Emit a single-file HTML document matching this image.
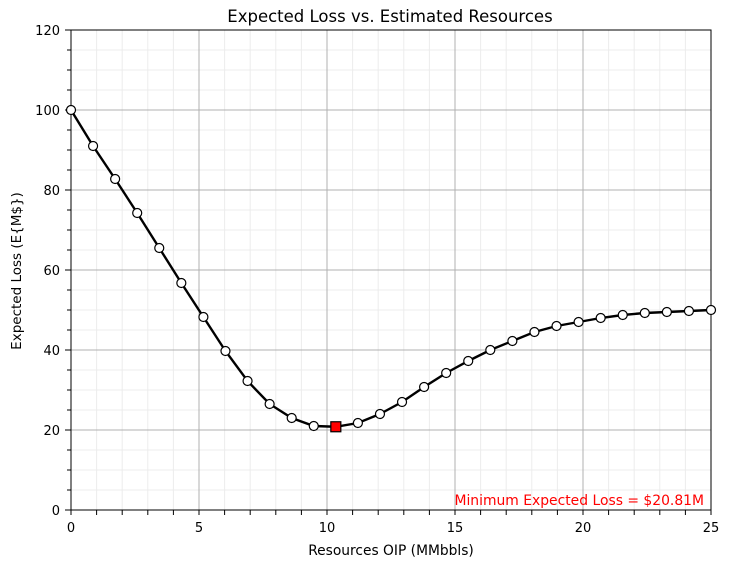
<!DOCTYPE html>
<html><head><meta charset="utf-8"><style>body{margin:0;background:#fff}svg{display:block;font-family:"DejaVu Sans","Liberation Sans",sans-serif}</style></head>
<body>
<svg id="chart" width="729" height="568"></svg>
<script>
const resources = [0,0.862,1.724,2.586,3.448,4.310,5.172,6.034,6.897,7.759,8.621,9.483,10.345,11.207,12.069,12.931,13.793,14.655,15.517,16.379,17.241,18.103,18.966,19.828,20.690,21.552,22.414,23.276,24.138,25];
const expectedLoss = [100,91,82.75,74.25,65.5,56.75,48.25,39.75,32.25,26.5,23,21,20.81,21.75,24,27,30.75,34.25,37.25,40,42.25,44.5,46,47,48,48.75,49.25,49.5,49.75,50];
const minIndex = 12;
const xTicks = [0,5,10,15,20,25];
const yTicks = [0,20,40,60,80,100,120];
const L=71,R=711,T=30,B=510;
const X=v=>L+(v/25)*(R-L), Y=v=>B-(v/120)*(B-T);
const NS='http://www.w3.org/2000/svg', svg=document.getElementById('chart');
function mk(t,a,p){const e=document.createElementNS(NS,t);for(const k in a)e.setAttribute(k,a[k]);(p||svg).appendChild(e);return e;}
for(let v=0;v<=25;v++){if(v%5){const l=mk('line',{x1:X(v),x2:X(v),y1:T,y2:B,stroke:'#ececec','stroke-width':1});}}
for(let v=0;v<=120;v+=5){if(v%20){const l=mk('line',{x1:L,x2:R,y1:Y(v),y2:Y(v),stroke:'#ececec','stroke-width':1});
const t=mk('line',{x1:L-4,x2:L,y1:Y(v),y2:Y(v),stroke:'#000'});}}
for(let v=0;v<=25;v++){if(v%5){const t=mk('line',{x1:X(v),x2:X(v),y1:B,y2:B+5,stroke:'#000'});}}
xTicks.forEach(v=>{const g=mk('line',{x1:X(v),x2:X(v),y1:T,y2:B,stroke:'#b0b0b0'});
const t=mk('line',{x1:X(v),x2:X(v),y1:B,y2:B+5,stroke:'#000'});
const s=mk('text',{x:X(v),y:B+22,'text-anchor':'middle','font-size':13});s.textContent=v;});
yTicks.forEach(v=>{const g=mk('line',{x1:L,x2:R,y1:Y(v),y2:Y(v),stroke:'#b0b0b0'});
const t=mk('line',{x1:L-6,x2:L,y1:Y(v),y2:Y(v),stroke:'#000'});
const s=mk('text',{x:L-11,y:Y(v)+5,'text-anchor':'end','font-size':13});s.textContent=v;});
const fr=mk('rect',{x:L,y:T,width:R-L,height:B-T,fill:'none',stroke:'#000','stroke-width':1});
const ln=mk('polyline',{points:resources.map((v,i)=>X(v)+','+Y(expectedLoss[i])).join(' '),fill:'none',stroke:'#000','stroke-width':2.4});
resources.forEach((v,i)=>{if(i===minIndex){const r=mk('rect',{x:X(v)-5,y:Y(expectedLoss[i])-5,width:10,height:10,fill:'#f00',stroke:'#000','stroke-width':1.2});}
else{const c=mk('circle',{cx:X(v),cy:Y(expectedLoss[i]),r:4.5,fill:'#fff',stroke:'#000','stroke-width':1.2});}});
let t=mk('text',{x:390,y:22,'text-anchor':'middle','font-size':16.5});t.textContent='Expected Loss vs. Estimated Resources';
t=mk('text',{x:391,y:555,'text-anchor':'middle','font-size':13.8});t.textContent='Resources OIP (MMbbls)';
t=mk('text',{x:0,y:0,'text-anchor':'middle','font-size':13.5,transform:'translate(21,271) rotate(-90)'});t.textContent='Expected Loss (E{M$})';
t=mk('text',{x:704,y:505,'text-anchor':'end','font-size':13.9,fill:'#f00'});t.textContent='Minimum Expected Loss = $'+expectedLoss[minIndex].toFixed(2)+'M';
</script>
</body></html>
